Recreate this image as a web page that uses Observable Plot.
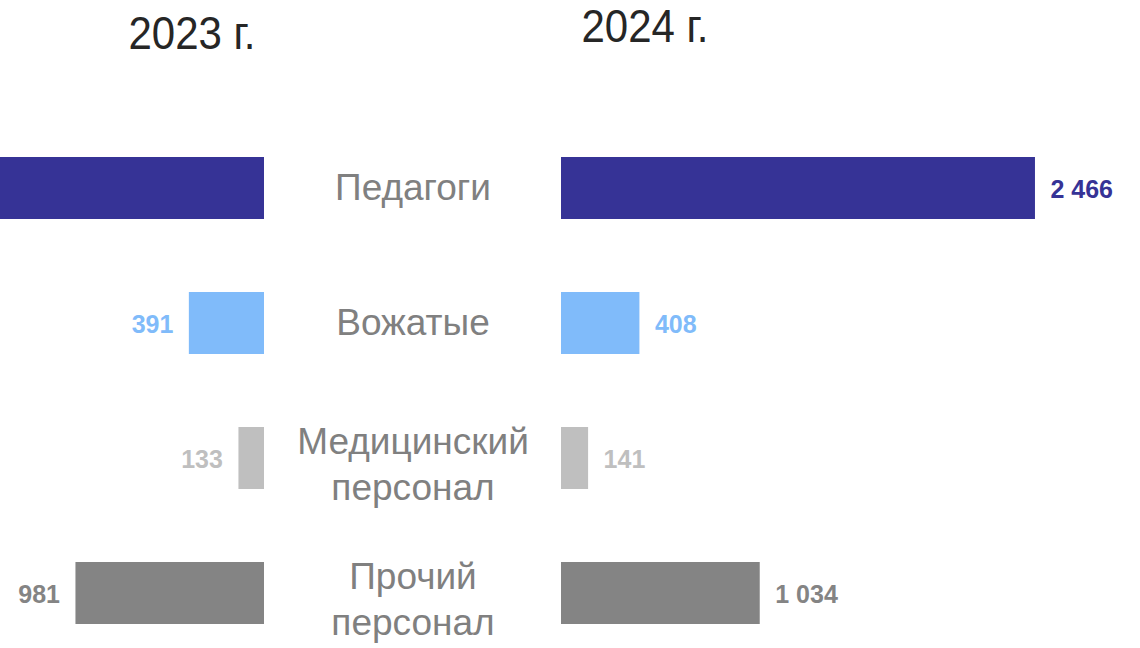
<!DOCTYPE html>
<html>
<head>
<meta charset="utf-8">
<script src="https://cdn.jsdelivr.net/npm/d3@7"></script>
<script src="https://cdn.jsdelivr.net/npm/@observablehq/plot@0.6"></script>
<style>
  html, body { margin: 0; padding: 0; background: #fff; overflow: hidden; }
  #wrap { position: relative; width: 1140px; height: 648px; font-family: "Liberation Sans", Arial, sans-serif; }
  .title { position: absolute; font-size: 42px; line-height: 1; color: #262626; transform: translate(-50%, -50%) scaleY(1.1); white-space: nowrap; }
</style>
</head>
<body>
<div id="wrap"></div>
<script>
const categories = ["Педагоги", "Вожатые", "Медицинский\nперсонал", "Прочий\nперсонал"];
const values2023 = [2380, 391, 133, 981];
const values2024 = [2466, 408, 141, 1034];
const colors = ["#363396", "#80BBFA", "#BFBFBF", "#848484"];
const yearLabels = ["2023 г.", "2024 г."];

const W = 1140, H = 648;
const k = 0.1922;            // px per unit
const center = 412.5;        // px of the central label column
const gap = 148.5 / k;       // half gap in data units
const fmt = d3.formatLocale({decimal: ",", thousands: "\u00a0", grouping: [3], currency: ["", ""]}).format(",d");

const rows = [];
categories.forEach((c, i) => {
  rows.push({cat: c, year: yearLabels[0], side: -1, value: values2023[i], color: colors[i]});
  rows.push({cat: c, year: yearLabels[1], side: 1, value: values2024[i], color: colors[i]});
});
// the 2023 "Педагоги" bar runs past the left edge of the frame, so its label is outside the picture
const inFrame = d => d.side > 0 || (center - (gap + d.value) * k) > 70;

const wrap = document.getElementById("wrap");
const plot = Plot.plot({
  width: W,
  height: H,
  marginLeft: 0, marginRight: 0, marginTop: 0, marginBottom: 0,
  x: {domain: [-center / k, (W - center) / k], range: [0, W], axis: null},
  y: {domain: categories, range: [119, 662], paddingInner: 0.544, paddingOuter: 0.272, axis: null},
  style: {fontFamily: "'Liberation Sans', Arial, sans-serif", background: "white"},
  marks: [
    Plot.barX(rows, {
      y: "cat",
      x1: d => d.side * gap,
      x2: d => d.side * (gap + d.value),
      fill: d => d.color
    }),
    Plot.text(rows.filter(d => d.side < 0 && inFrame(d)), {
      y: "cat",
      x: d => d.side * (gap + d.value),
      text: d => fmt(d.value),
      fill: d => d.color,
      textAnchor: "end",
      dx: -16,
      dy: 1,
      fontSize: 25,
      fontWeight: "bold"
    }),
    Plot.text(rows.filter(d => d.side > 0), {
      y: "cat",
      x: d => d.side * (gap + d.value),
      text: d => fmt(d.value),
      fill: d => d.color,
      textAnchor: "start",
      dx: 15,
      dy: 1,
      fontSize: 25,
      fontWeight: "bold"
    }),
    Plot.text(categories.filter(c => !c.includes("\n")), {
      y: d => d,
      x: () => 0,
      text: d => d,
      fill: "#808080",
      fontSize: 37,
      textAnchor: "middle",
      dy: 0
    }),
    Plot.text(categories.filter(c => c.includes("\n")), {
      y: d => d,
      x: () => 0,
      text: d => d,
      fill: "#808080",
      fontSize: 37,
      lineHeight: 1.22,
      textAnchor: "middle",
      dy: 4
    })
  ]
});
wrap.appendChild(plot);

const titlePos = [[192, 34], [645, 27]];
yearLabels.forEach((t, i) => {
  const d = document.createElement("div");
  d.className = "title";
  d.textContent = t;
  d.style.left = titlePos[i][0] + "px";
  d.style.top = titlePos[i][1] + "px";
  wrap.appendChild(d);
});
</script>
</body>
</html>
